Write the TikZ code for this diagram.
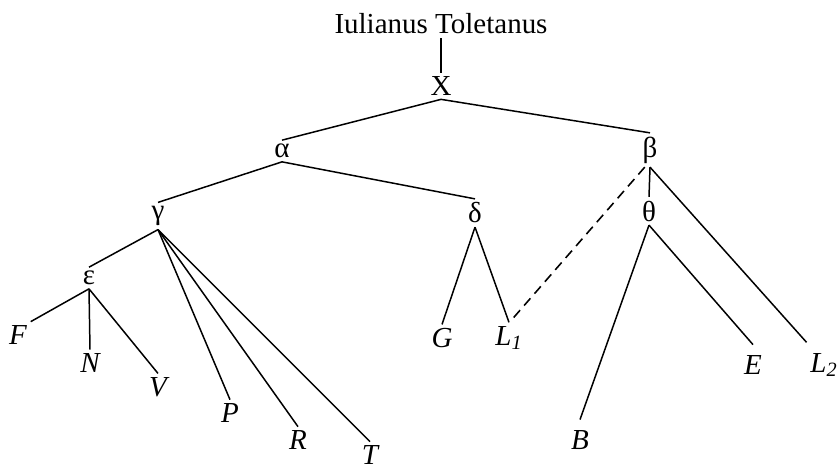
\documentclass[tikz,border=0pt]{standalone}
\usepackage{fontspec}
\setmainfont{Liberation Serif}
\usetikzlibrary{calc}

\begin{document}
\begin{tikzpicture}[
  x=0.02cm, y=-0.02cm,
  hyp/.style={inner sep=2pt, font=\fontsize{16.5}{19}\selectfont},
  ms/.style={inner sep=2pt, font=\fontsize{16.5}{19}\selectfont\itshape},
  stem/.style={line width=0.85pt},
  contam/.style={line width=0.9pt, dash pattern=on 5.5pt off 3.5pt}
]
\useasboundingbox (0,0) rectangle (838,471);

% archetype and hyparchetypes
\node[hyp] (auth) at (441,24) {Iulianus Toletanus};
\node[hyp] (x) at (441,86) {X};
\node[hyp] (alpha) at (282,151) {α};
\node[hyp] (beta) at (650,150) {β};
\node[hyp] (gamma) at (158,216) {γ};
\node[hyp] (delta) at (475,213) {δ};
\node[hyp] (theta) at (649,211) {θ};
\node[hyp] (eps) at (89,278) {ε};

% manuscripts
\node[ms] (F) at (18,335) {F};
\node[ms] (N) at (90,363) {N};
\node[ms] (V) at (158,387) {V};
\node[ms] (P) at (230,413) {P};
\node[ms] (R) at (298,440) {R};
\node[ms] (T) at (370,455) {T};
\node[ms] (G) at (442,338) {G};
\node[ms] (L1) at (509,338) {L\textsubscript{1}};
\node[ms] (B) at (580,440) {B};
\node[ms] (E) at (753,365) {E};
\node[ms] (L2) at (824,365) {L\textsubscript{2}};

\draw[line width=1.3pt] (auth.south) -- (x.north);
\draw[stem] (x.south) -- (alpha.north);
\draw[stem] (x.south) -- (beta.north);
\draw[stem] (alpha.south) -- (gamma.north);
\draw[stem] (alpha.south) -- (delta.north);
\draw[stem] (beta.south) -- (theta.north);
\draw[stem] (beta.south) -- ([yshift=4pt]L2.north west);
\draw[stem] (gamma.south) -- (eps.north);
\foreach \m in {P,R,T}
  \draw[stem] (gamma.south) -- (\m.north);
\draw[stem] (eps.south) -- (F.north east);
\foreach \m in {N,V}
  \draw[stem] (eps.south) -- (\m.north);
\draw[stem] (delta.south) -- (G.north);
\draw[stem] (delta.south) -- (L1.north);
\draw[stem] (theta.south) -- ([yshift=4pt]B.north);
\draw[stem] (theta.south) -- ([yshift=4pt]E.north);

% contamination
\draw[contam] ([xshift=-3pt]beta.south) -- ([xshift=2pt,yshift=2pt]L1.north);
\end{tikzpicture}
\end{document}
